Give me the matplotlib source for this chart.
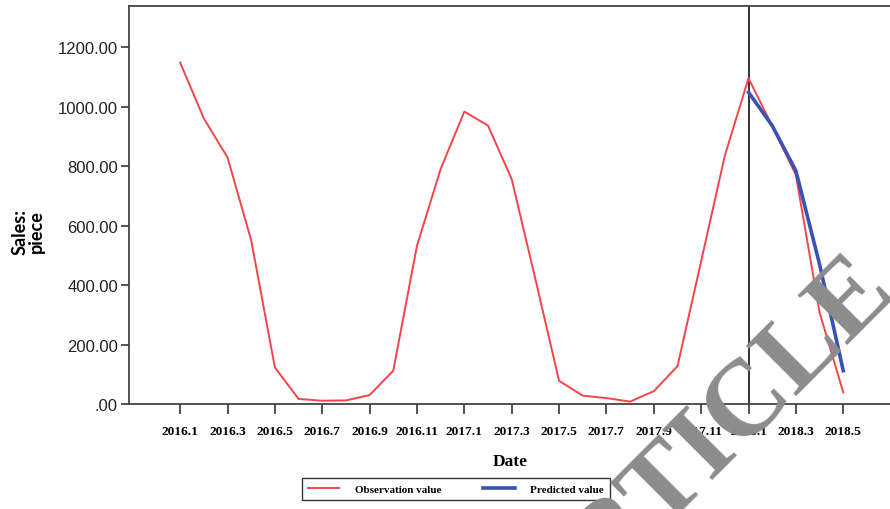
import matplotlib
matplotlib.use("Agg")
import matplotlib.pyplot as plt
from matplotlib.ticker import FuncFormatter

# ---- data ----
months = ["2016.1", "2016.2", "2016.3", "2016.4", "2016.5", "2016.6", "2016.7",
          "2016.8", "2016.9", "2016.10", "2016.11", "2016.12",
          "2017.1", "2017.2", "2017.3", "2017.4", "2017.5", "2017.6", "2017.7",
          "2017.8", "2017.9", "2017.10", "2017.11", "2017.12",
          "2018.1", "2018.2", "2018.3", "2018.4", "2018.5"]
observed = [1148, 960, 829, 550, 123, 17, 11, 12, 30, 112, 532, 790,
            983, 936, 756, 420, 78, 28, 20, 8, 43, 127, 480, 835,
            1095, 935, 770, 308, 39]
pred_months = ["2018.1", "2018.2", "2018.3", "2018.4", "2018.5"]
predicted = [1048, 936, 784, 470, 112]
tick_labels = months[::2]
yticks = [0, 200, 400, 600, 800, 1000, 1200]

W, H = 890, 510
fig = plt.figure(figsize=(W / 100, H / 100), dpi=100)
ax = fig.add_axes([129 / W, 1 - 405 / H, 1 - 129 / W + 0.002, (405 - 7) / H])

xi = list(range(len(months)))
pxi = [months.index(m) for m in pred_months]

ax.plot(xi, observed, color="#f2454a", lw=1.4, label="Observation value", zorder=3)
ax.plot(pxi, predicted, color="#3a52b4", lw=2.6, label="Predicted value", zorder=4)
ax.axvline(months.index("2018.1"), color="#333333", lw=1.4, zorder=2)

ax.set_xlim(-2.16, 30.05)
ax.set_ylim(0, 1338)
ax.set_xticks(xi[::2])
ax.set_xticklabels(tick_labels, fontfamily="Liberation Serif", fontweight="bold",
                   fontsize=9.6)
ax.set_yticks(yticks)
ax.yaxis.set_major_formatter(FuncFormatter(lambda v, p: ("%.2f" % v) if v != 0 else ".00"))
for t in ax.get_yticklabels():
    t.set_fontfamily("Liberation Sans")
    t.set_fontsize(12)
    t.set_color("#222222")
ax.tick_params(axis="x", length=7, width=1.2, pad=8, color="#333333")
ax.tick_params(axis="y", length=6, width=1.2, pad=2, color="#333333")
for s in ["left", "bottom", "top"]:
    ax.spines[s].set_linewidth(1.3)
    ax.spines[s].set_color("#444444")
ax.spines["right"].set_visible(False)

ax.set_xlabel("Date", fontfamily="Liberation Serif", fontweight="bold", fontsize=12.5,
              labelpad=12)
fig.text(28 / W, 1 - 232 / H, "Sales:\npiece", rotation=90, ha="center", va="center",
         multialignment="center", fontfamily="Lato", fontweight="bold", fontsize=13,
         linespacing=0.95)

leg = fig.legend(loc="upper center", bbox_to_anchor=(456 / W, 1 - 479 / H), ncol=2,
                 prop={"family": "Liberation Serif", "weight": "bold", "size": 8.0},
                 frameon=True, fancybox=False, edgecolor="black", handlelength=2.8,
                 handletextpad=1.4, columnspacing=3.8, borderpad=0.55,
                 borderaxespad=0)
leg.get_frame().set_linewidth(1.0)

# watermark
fig.text(898 / W, 1 - 295 / H, "RETRACTED ARTICLE", rotation=45, rotation_mode="anchor",
         ha="right", va="baseline", fontfamily="Liberation Serif", fontweight="bold",
         fontsize=78, color="#8c8c8c", zorder=10)

fig.savefig("out.png", dpi=100)
